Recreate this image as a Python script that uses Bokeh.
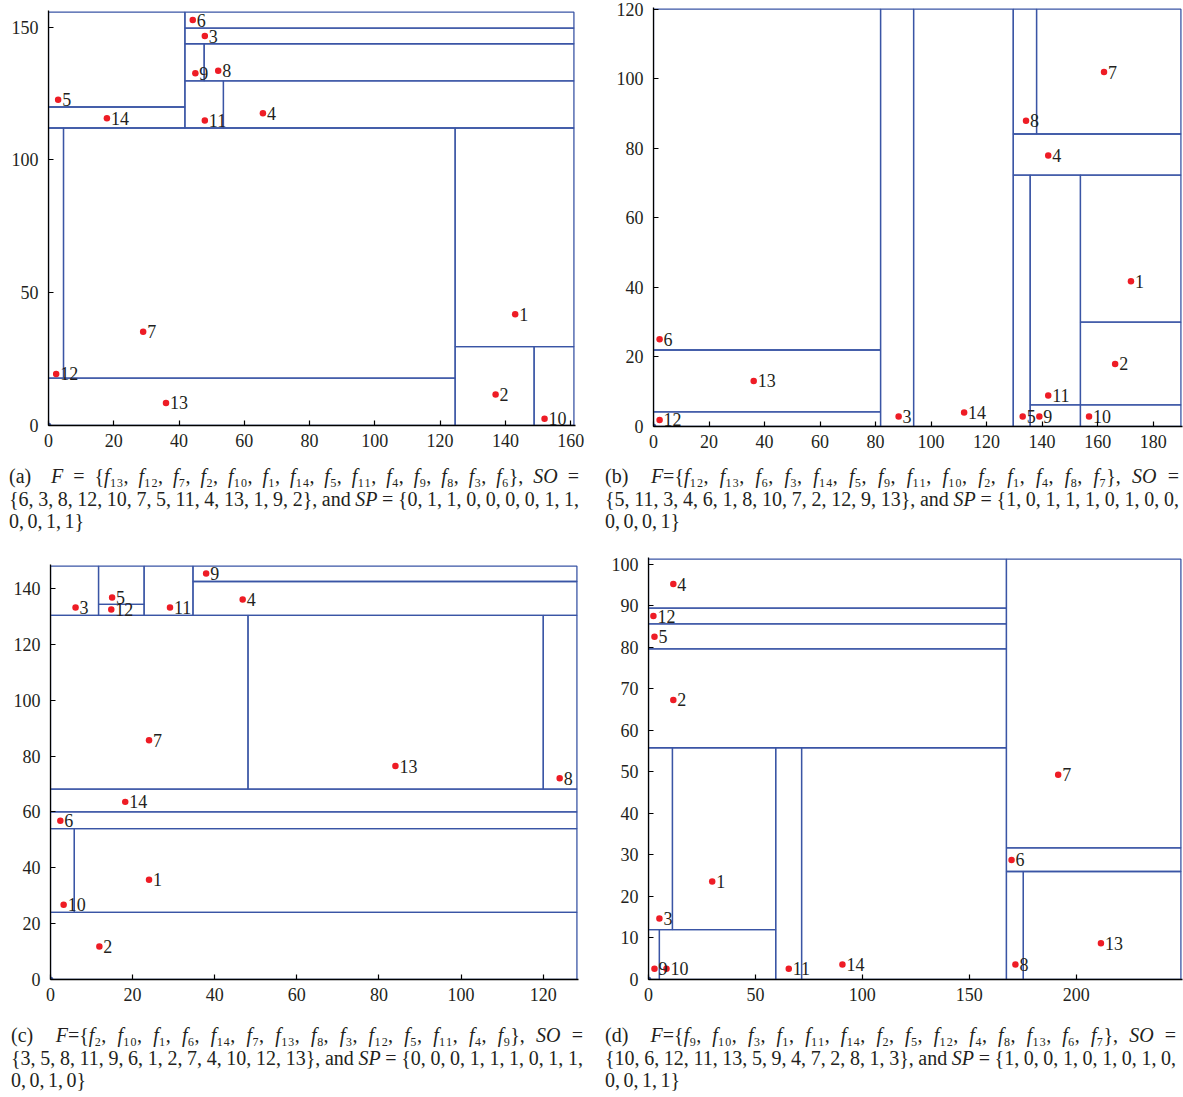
from bokeh.plotting import figure
from bokeh.models import Div, Range1d, FixedTicker
from bokeh.layouts import row, column
from bokeh.embed import file_html
from bokeh.resources import INLINE
from bokeh.core.properties import value

SERIF = "Liberation Serif"
BLUE = "#3a55a5"
RED = "#ee1c25"
INK = "#231f20"

# ---------------- Panel (a) ----------------
a_size = (161, 155.6)
a_xticks = [0, 20, 40, 60, 80, 100, 120, 140, 160]
a_yticks = [0, 50, 100, 150]
a_left   = [0, 0, 4.6, 124.6, 124.6, 148.8, 0, 0, 41.8, 53.6, 41.8, 47.7, 41.8, 41.8]
a_right  = [124.6, 4.6, 124.6, 161, 148.8, 161, 41.8, 41.8, 53.6, 161, 47.7, 161, 161, 161]
a_bottom = [0, 17.8, 17.8, 29.7, 0, 0, 112, 119.9, 112, 112, 129.7, 129.7, 143.7, 149.6]
a_top    = [17.8, 112, 112, 112, 29.7, 29.7, 119.9, 155.6, 129.7, 129.7, 143.7, 143.7, 149.6, 155.6]
a_labels = ["6", "3", "9", "8", "5", "14", "11", "4", "7", "12", "13", "1", "2", "10"]
a_px = [44.2, 47.9, 45.0, 52.0, 2.95, 17.9, 47.9, 65.7, 29.0, 2.35, 36.0, 143.0, 137.0, 152.0]
a_py = [152.6, 146.6, 132.6, 133.5, 122.6, 115.7, 114.8, 117.5, 35.3, 19.4, 8.5, 41.9, 11.7, 2.5]
a_F = [13, 12, 7, 2, 10, 1, 14, 5, 11, 4, 9, 8, 3, 6]
a_SO = [6, 3, 8, 12, 10, 7, 5, 11, 4, 13, 1, 9, 2]
a_SP = [0, 1, 1, 0, 0, 0, 0, 1, 1, 0, 0, 1, 1]

# ---------------- Panel (b) ----------------
b_size = (190, 120)
b_xticks = [0, 20, 40, 60, 80, 100, 120, 140, 160, 180]
b_yticks = [0, 20, 40, 60, 80, 100, 120]
b_left   = [0, 0, 0, 81.8, 93.7, 129.6, 138.0, 129.6, 129.6, 135.7, 135.7, 153.8, 153.8, 153.8]
b_right  = [81.8, 81.8, 81.8, 93.7, 129.6, 138.0, 190, 190, 135.7, 153.8, 153.8, 190, 190, 190]
b_bottom = [0, 4.2, 22.0, 0, 0, 84.1, 84.1, 72.3, 0, 0, 6.2, 0, 6.2, 30.0]
b_top    = [4.2, 22.0, 120, 120, 120, 120, 120, 84.1, 72.3, 6.2, 72.3, 6.2, 30.0, 72.3]
b_labels = ["7", "8", "4", "6", "13", "12", "3", "14", "5", "9", "11", "10", "2", "1"]
b_px = [162.3, 134.2, 142.2, 2.2, 36.1, 2.2, 88.3, 111.9, 133.0, 139.0, 142.2, 156.9, 166.3, 172.0]
b_py = [101.9, 87.9, 77.9, 25.1, 13.1, 1.9, 2.9, 4.0, 2.9, 2.9, 8.9, 2.9, 18.0, 41.8]
b_F = [12, 13, 6, 3, 14, 5, 9, 11, 10, 2, 1, 4, 8, 7]
b_SO = [5, 11, 3, 4, 6, 1, 8, 10, 7, 2, 12, 9, 13]
b_SP = [1, 0, 1, 1, 1, 0, 1, 0, 0, 0, 0, 0, 1]

# ---------------- Panel (c) ----------------
c_size = (128.2, 148)
c_xticks = [0, 20, 40, 60, 80, 100, 120]
c_yticks = [0, 20, 40, 60, 80, 100, 120, 140]
c_left   = [0, 0, 5.8, 0, 0, 0, 48.1, 120, 0, 11.7, 11.7, 22.8, 34.7, 34.7]
c_right  = [128.2, 5.8, 128.2, 128.2, 128.2, 48.1, 120, 128.2, 11.7, 22.8, 22.8, 34.7, 128.2, 128.2]
c_bottom = [0, 24, 24, 54, 60, 68.2, 68.2, 68.2, 130.4, 130.4, 134.3, 130.4, 130.4, 142.5]
c_top    = [24, 54, 54, 60, 68.2, 130.4, 130.4, 130.4, 148, 134.3, 148, 148, 142.5, 148]
c_labels = ["9", "3", "5", "12", "11", "4", "7", "13", "8", "14", "6", "1", "10", "2"]
c_px = [37.9, 6.1, 15.0, 14.8, 29.1, 46.8, 24.0, 84.0, 124.0, 18.2, 2.4, 24.0, 3.2, 11.9]
c_py = [145.4, 133.2, 136.8, 132.5, 133.2, 136.1, 85.7, 76.4, 72.1, 63.6, 56.8, 35.7, 26.8, 11.8]
c_F = [2, 10, 1, 6, 14, 7, 13, 8, 3, 12, 5, 11, 4, 9]
c_SO = [3, 5, 8, 11, 9, 6, 1, 2, 7, 4, 10, 12, 13]
c_SP = [0, 0, 0, 1, 1, 1, 0, 1, 1, 0, 0, 1, 0]

# ---------------- Panel (d) ----------------
d_size = (249, 101.2)
d_xticks = [0, 50, 100, 150, 200]
d_yticks = [0, 10, 20, 30, 40, 50, 60, 70, 80, 90, 100]
d_left   = [0, 0, 0, 0, 0, 11.2, 0, 5.1, 59.5, 71.6, 167.4, 167.4, 167.4, 175.3]
d_right  = [167.4, 167.4, 167.4, 167.4, 11.2, 59.5, 5.1, 59.5, 71.6, 167.4, 249, 249, 175.3, 249]
d_bottom = [89.4, 85.6, 79.6, 55.8, 12, 12, 0, 0, 0, 0, 31.7, 26.0, 0, 0]
d_top    = [101.2, 89.4, 85.6, 79.6, 55.8, 55.8, 12, 12, 55.8, 55.8, 101.2, 31.7, 26.0, 26.0]
d_labels = ["4", "12", "5", "2", "7", "6", "1", "3", "13", "9", "10", "11", "14", "8"]
d_px = [11.6, 2.3, 2.8, 11.6, 191.6, 169.8, 29.8, 5.1, 211.6, 2.8, 8.4, 65.6, 90.7, 171.6]
d_py = [95.2, 87.5, 82.5, 67.3, 49.3, 28.8, 23.6, 14.7, 8.7, 2.6, 2.6, 2.6, 3.6, 3.6]
d_F = [9, 10, 3, 1, 11, 14, 2, 5, 12, 4, 8, 13, 6, 7]
d_SO = [10, 6, 12, 11, 13, 5, 9, 4, 7, 2, 8, 1, 3]
d_SP = [1, 0, 0, 1, 0, 1, 0, 1, 0, 0, 0, 1, 1]

origin_x = [0]
origin_y = [0]

SUBS = str.maketrans("0123456789", "\u2080\u2081\u2082\u2083\u2084\u2085\u2086\u2087\u2088\u2089")


def panel(size, xt, yt, left, right, bottom, top, labels, px, py,
          width, height, bl, br, bt, bb):
    W, H = size
    p = figure(width=width, height=height,
               x_range=Range1d(0, W * 1.003), y_range=Range1d(0, H * 1.004),
               output_backend="svg", toolbar_location=None,
               min_border_left=bl, min_border_right=br,
               min_border_top=bt, min_border_bottom=bb)
    p.frame_align = False
    p.xgrid.visible = False
    p.ygrid.visible = False
    p.outline_line_color = None
    p.background_fill_color = "white"
    p.border_fill_color = "white"
    p.quad(left=left, right=right, bottom=bottom, top=top,
           fill_color=None, line_color=BLUE, line_width=1.3)
    p.scatter(origin_x, origin_y, size=5, color=BLUE)
    p.scatter(px, py, size=6.5, color=RED, line_color=None)
    p.text(px, py, text=labels, x_offset=4, text_baseline="middle",
           text_align="left", text_font=value(SERIF),
           text_font_size="18px", text_color=INK)
    p.xaxis.ticker = FixedTicker(ticks=xt)
    p.yaxis.ticker = FixedTicker(ticks=yt)
    for ax in (p.xaxis, p.yaxis):
        ax.axis_line_color = "black"
        ax.axis_line_width = 1.3
        ax.major_tick_line_color = "black"
        ax.major_tick_line_width = 1.2
        ax.major_tick_in = 5
        ax.major_tick_out = 0
        ax.minor_tick_line_color = None
        ax.major_label_text_font = SERIF
        ax.major_label_text_font_size = "18px"
        ax.major_label_text_color = INK
    p.xaxis.major_label_standoff = 8
    p.yaxis.major_label_standoff = 10
    return p


def fsub(i):
    return "<i>f</i>" + str(i).translate(SUBS)


def caption(letter, F, SO, SP, sep, inner_width, shift, pad_top):
    line1 = ("(%s)&nbsp; <i>F</i>%s{" % (letter, sep) + ", ".join(fsub(i) for i in F)
             + "}, <i>SO</i>&nbsp;=")
    line2 = ("{" + ", ".join(str(v) for v in SO) + "}, and <i>SP</i>&nbsp;=&nbsp;{"
             + ", ".join(str(v) for v in SP[:9]) + ",")
    line3 = ", ".join(str(v) for v in SP[9:]) + "}"
    jst = "text-align:justify;text-align-last:justify;height:22.5px;"
    return ("<div style=\"font-family:'Liberation Serif','DejaVu Serif',serif;font-size:20px;"
            "word-spacing:-1.5px;line-height:22.5px;color:%s;width:%dpx;"
            "margin-left:%dpx;padding-top:%dpx\">"
            "<div style='%s'>%s</div><div style='%s'>%s</div><div>%s</div></div>"
            % (INK, inner_width, shift, pad_top, jst, line1, jst, line2, line3))


fa = panel(a_size, a_xticks, a_yticks, a_left, a_right, a_bottom, a_top, a_labels, a_px, a_py,
           608, 460, 48, 33, 10, 35)
fb = panel(b_size, b_xticks, b_yticks, b_left, b_right, b_bottom, b_top, b_labels, b_px, b_py,
           575, 460, 45, 1, 7, 34)
fc = panel(c_size, c_xticks, c_yticks, c_left, c_right, c_bottom, c_top, c_labels, c_px, c_py,
           608, 460, 50, 30, 16, 29)
fd = panel(d_size, d_xticks, d_yticks, d_left, d_right, d_bottom, d_top, d_labels, d_px, d_py,
           575, 460, 39, 1, 9, 29)

da = Div(text=caption("a", a_F, a_SO, a_SP, " = ", 570, 9, 5), width=608, height=88, margin=0)
db = Div(text=caption("b", b_F, b_SO, b_SP, "=", 574, -3, 5), width=575, height=88, margin=0)
dc = Div(text=caption("c", c_F, c_SO, c_SP, "=", 572, 11, 16), width=608, height=89, margin=0)
dd = Div(text=caption("d", d_F, d_SO, d_SP, "=", 571, -3, 16), width=575, height=89, margin=0)

layout = column(row(fa, fb), row(da, db), row(fc, fd), row(dc, dd))
open("out.html", "w").write(file_html(layout, INLINE))
